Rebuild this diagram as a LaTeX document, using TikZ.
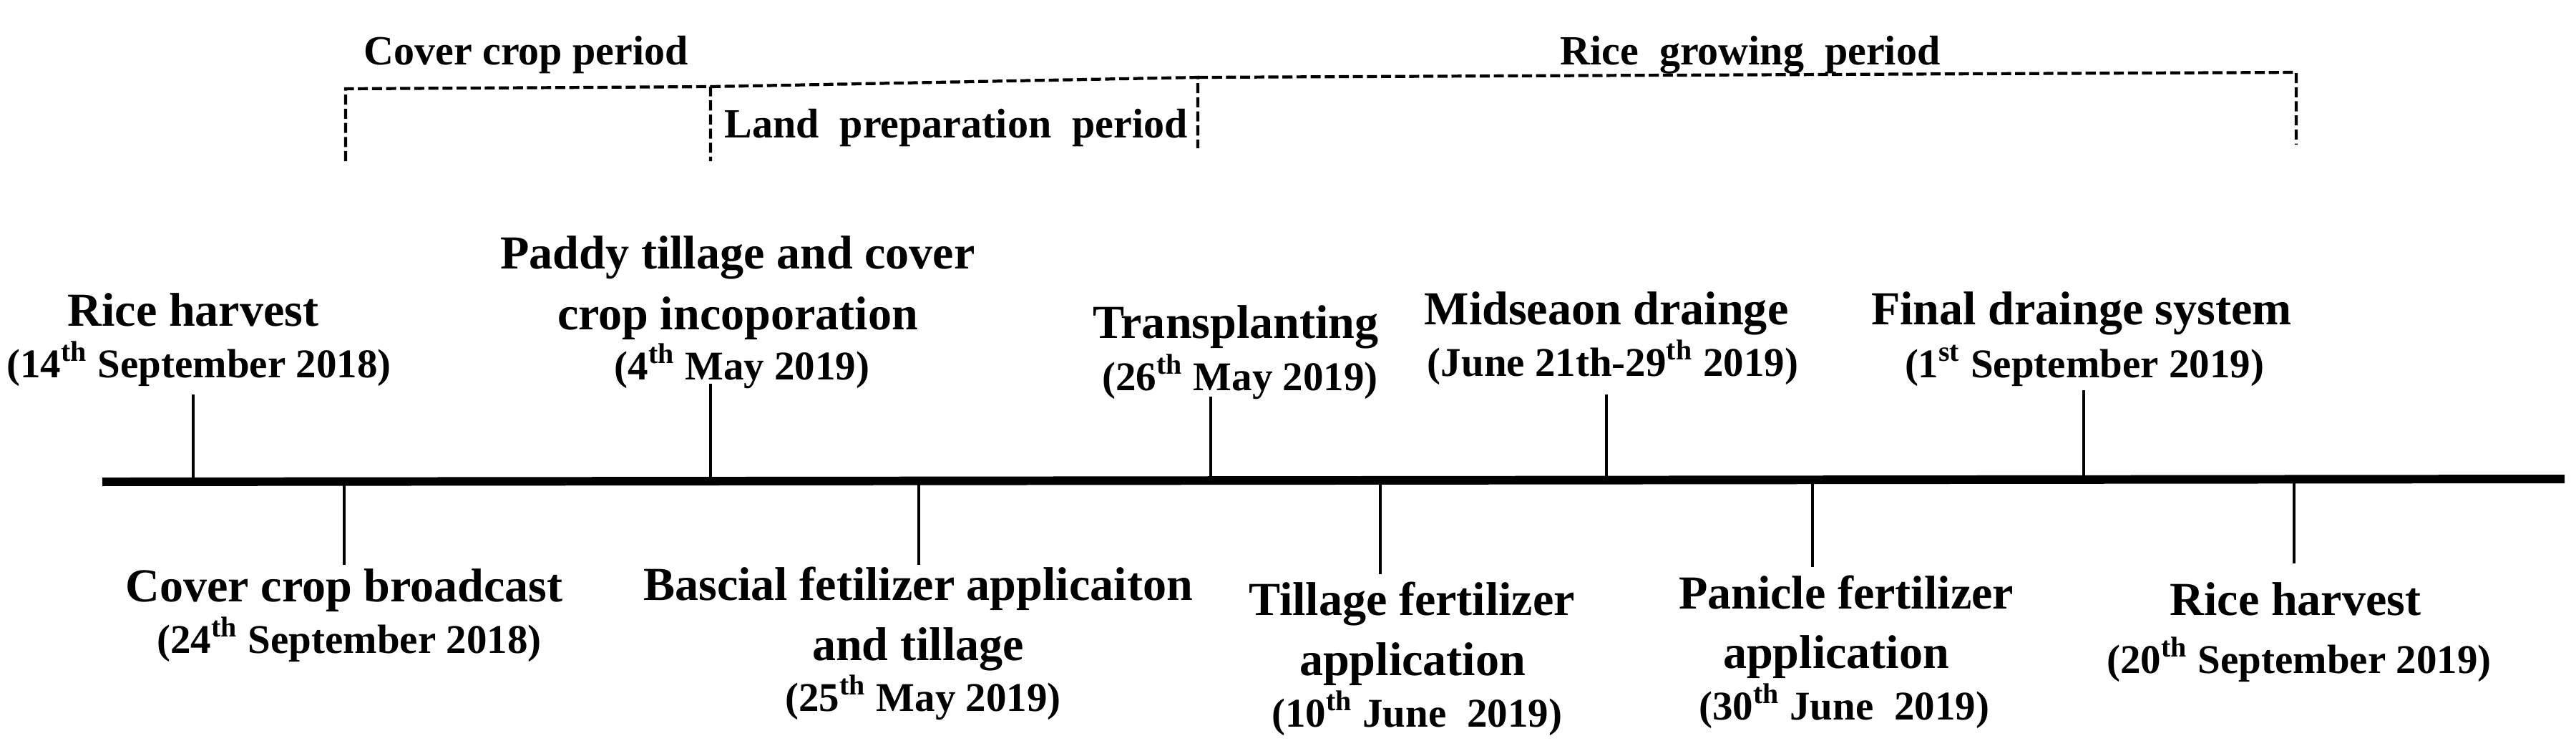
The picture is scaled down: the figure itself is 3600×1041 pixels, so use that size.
\documentclass[tikz,border=0pt]{standalone}
\usepackage{fontspec}
\setmainfont{Liberation Serif}
\begin{document}
\begin{tikzpicture}[x=0.01cm,y=-0.01cm,
  ttl/.style={font=\fontsize{18.8pt}{22pt}\selectfont\bfseries, anchor=base, inner sep=0pt},
  dte/.style={font=\fontsize{16.2pt}{19pt}\selectfont\bfseries, anchor=base, inner sep=0pt},
  prd/.style={font=\fontsize{16.5pt}{19pt}\selectfont\bfseries, anchor=base, inner sep=0pt},
  axisline/.style={line width=3.4pt},
  tickline/.style={line width=1.3pt},
  bracket/.style={line width=1.2pt, dash pattern=on 4pt off 1.6pt}]
\useasboundingbox (0,0) rectangle (3600,1041);

% timeline
\coordinate (tlL) at (143,673);
\coordinate (tlR) at (3584,669);
\draw[axisline] (tlL) -- (tlR);

% period brackets
\coordinate (ccA) at (483,225);
\coordinate (ccB) at (483,124);
\coordinate (ccC) at (993,121);
\coordinate (ccD) at (993,225);
\coordinate (lpB) at (1674,108);
\coordinate (lpC) at (1674,207);
\coordinate (rgB) at (3209,101);
\coordinate (rgC) at (3209,202);
\draw[bracket] (ccA) -- (ccB) -- (ccC) -- (ccD);
\draw[bracket] (ccC) -- (lpB) -- (lpC);
\draw[bracket] (lpB) -- (rgB) -- (rgC);
\node[prd] (pcc) at (735,90) {Cover crop period};
\node[prd] (plp) at (1336,192) {Land\ \ preparation\ \ period};
\node[prd] (prg) at (2446,90) {Rice\ \ growing\ \ period};

% ticks above
\coordinate (aB) at (270,671); \coordinate (aT) at (270,551);
\coordinate (bB) at (993,671); \coordinate (bT) at (993,536);
\coordinate (cB) at (1692,671); \coordinate (cT) at (1692,554);
\coordinate (dB) at (2245,671); \coordinate (dT) at (2245,551);
\coordinate (eB) at (2912,671); \coordinate (eT) at (2912,545);
\foreach \n in {a,b,c,d,e} \draw[tickline] (\n B) -- (\n T);

% ticks below
\coordinate (fB) at (481,671); \coordinate (fT) at (481,789);
\coordinate (gB) at (1284,671); \coordinate (gT) at (1284,789);
\coordinate (hB) at (1929,671); \coordinate (hT) at (1929,802);
\coordinate (iB) at (2533,671); \coordinate (iT) at (2533,792);
\coordinate (jB) at (3206,671); \coordinate (jT) at (3206,787);
\foreach \n in {f,g,h,i,j} \draw[tickline] (\n B) -- (\n T);

% labels above
\node[ttl] (a1) at (270,455) {Rice harvest};
\node[dte] (a2) at (278,527) {(14\textsuperscript{th} September 2018)};

\node[ttl] (b1) at (1031,375) {Paddy tillage and cover};
\node[ttl] (b2) at (1031,460) {crop incoporation};
\node[dte] (b3) at (1037,530) {(4\textsuperscript{th} May 2019)};

\node[ttl] (c1) at (1727,472) {Transplanting};
\node[dte] (c2) at (1733,545) {(26\textsuperscript{th} May 2019)};

\node[ttl] (d1) at (2245,453) {Midseaon drainge};
\node[dte] (d2) at (2254,525) {(June 21th-29\textsuperscript{th} 2019)};

\node[ttl] (e1) at (2909,453) {Final drainge system};
\node[dte] (e2) at (2913,527) {(1\textsuperscript{st} September 2019)};

% labels below
\node[ttl] (f1) at (481,840) {Cover crop broadcast};
\node[dte] (f2) at (488,912) {(24\textsuperscript{th} September 2018)};

\node[ttl] (g1) at (1283,838) {Bascial fetilizer applicaiton};
\node[ttl] (g2) at (1283,922) {and tillage};
\node[dte] (g3) at (1290,993) {(25\textsuperscript{th} May 2019)};

\node[ttl] (h1) at (1973,859) {Tillage fertilizer};
\node[ttl] (h2) at (1974,943) {application};
\node[dte] (h3) at (1980,1015) {(10\textsuperscript{th} June\ \ 2019)};

\node[ttl] (i1) at (2580,850) {Panicle fertilizer};
\node[ttl] (i2) at (2566,933) {application};
\node[dte] (i3) at (2577,1005) {(30\textsuperscript{th} June\ \ 2019)};

\node[ttl] (j1) at (3208,859) {Rice harvest};
\node[dte] (j2) at (3213,940) {(20\textsuperscript{th} September 2019)};
\end{tikzpicture}
\end{document}
